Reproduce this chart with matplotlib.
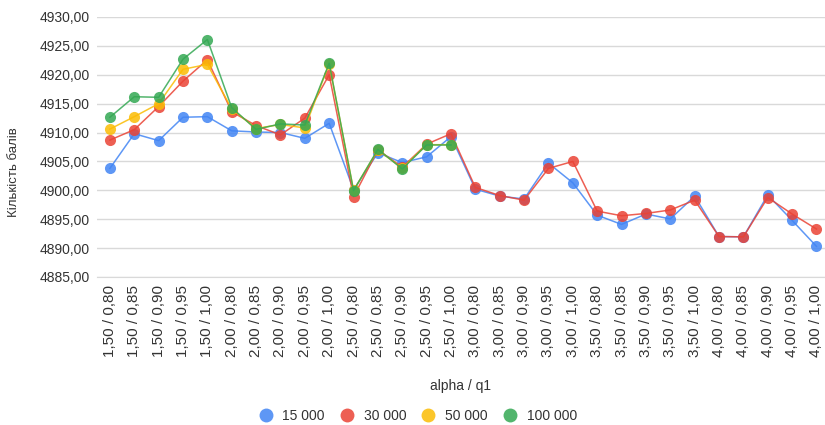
import matplotlib.pyplot as plt
import numpy as np

plt.rcParams['font.family'] = ['Liberation Sans', 'DejaVu Sans']

categories = [
    "1,50 / 0,80", "1,50 / 0,85", "1,50 / 0,90", "1,50 / 0,95", "1,50 / 1,00",
    "2,00 / 0,80", "2,00 / 0,85", "2,00 / 0,90", "2,00 / 0,95", "2,00 / 1,00",
    "2,50 / 0,80", "2,50 / 0,85", "2,50 / 0,90", "2,50 / 0,95", "2,50 / 1,00",
    "3,00 / 0,80", "3,00 / 0,85", "3,00 / 0,90", "3,00 / 0,95", "3,00 / 1,00",
    "3,50 / 0,80", "3,50 / 0,85", "3,50 / 0,90", "3,50 / 0,95", "3,50 / 1,00",
    "4,00 / 0,80", "4,00 / 0,85", "4,00 / 0,90", "4,00 / 0,95", "4,00 / 1,00",
]

s15000 = [4903.8, 4909.8, 4908.6, 4912.65, 4912.75,
          4910.3, 4910.1, 4910.0, 4909.0, 4911.6,
          4900.1, 4906.5, 4904.8, 4905.8, 4909.3,
          4900.2, 4899.0, 4898.5, 4904.7, 4901.3,
          4895.7, 4894.1, 4895.9, 4895.05, 4899.0,
          4892.0, 4891.95, 4899.2, 4894.8, 4890.3]

s30000 = [4908.7, 4910.5, 4914.5, 4918.9, 4922.6,
          4913.6, 4911.2, 4909.6, 4912.5, 4920.0,
          4898.9, 4907.0, 4904.0, 4908.0, 4909.8,
          4900.5, 4899.1, 4898.3, 4903.8, 4905.0,
          4896.4, 4895.6, 4896.0, 4896.6, 4898.3,
          4892.0, 4891.95, 4898.75, 4895.9, 4893.3]

s50000 = [4910.6, 4912.75, 4915.0, 4920.95, 4921.8,
          4914.1, 4910.7, 4911.4, 4910.8, 4921.9,
          4900.0, 4907.0, 4903.8, 4907.9, 4907.9]

s100000 = [4912.65, 4916.2, 4916.1, 4922.7, 4926.1,
           4914.3, 4910.55, 4911.5, 4911.3, 4922.0,
           4899.95, 4907.1, 4903.7, 4907.85, 4907.85]

series = [("15 000", s15000, "#4285F4"),
          ("30 000", s30000, "#EA4335"),
          ("50 000", s50000, "#FBBC04"),
          ("100 000", s100000, "#34A853")]

fig = plt.figure(figsize=(8.25, 4.25), dpi=100)
ax = fig.add_axes([97 / 825, 1 - 277 / 425, 728 / 825, 260 / 425])

for name, values, color in series:
    x = np.arange(len(values))
    ax.plot(x, values, color=color, linewidth=1.1, marker="o",
            markersize=8, markeredgewidth=0, label=name, alpha=0.85)

ax.set_xlim(-0.53, 29.35)
ax.set_ylim(4885, 4930)
yticks = np.arange(4885, 4931, 5)
ax.set_yticks(yticks)
ax.set_yticklabels([f"{v:.2f}".replace(".", ",") for v in yticks])
ax.set_xticks(np.arange(len(categories)))
ax.set_xticklabels(categories, rotation=90, fontsize=11, color="#333333")
ax.tick_params(axis="y", labelsize=10, labelcolor="#333333", length=0, pad=5)
ax.tick_params(axis="x", length=0, pad=6)

ax.grid(axis="y", color="#d9d9d9", linewidth=1)
ax.set_axisbelow(True)
for side in ["top", "right", "left"]:
    ax.spines[side].set_visible(False)
ax.spines["bottom"].set_color("#d9d9d9")

fig.text(14 / 825, 1 - 172 / 425, "Кількість балів", fontsize=9.5, color="#333333",
         rotation=90, ha="center", va="center")
fig.text(460 / 825, 1 - 386 / 425, "alpha / q1", fontsize=10, color="#333333",
         ha="center", va="center")

leg = fig.legend(loc="center", bbox_to_anchor=(417 / 825, 1 - 416 / 425), ncol=4,
                 frameon=False, fontsize=10, handlelength=1.2, handletextpad=0.6,
                 columnspacing=1.0, labelcolor="#333333")
for h in leg.legend_handles:
    h.set_linestyle("none")
    h.set_markersize(10)

fig.savefig("out.png", dpi=100)
